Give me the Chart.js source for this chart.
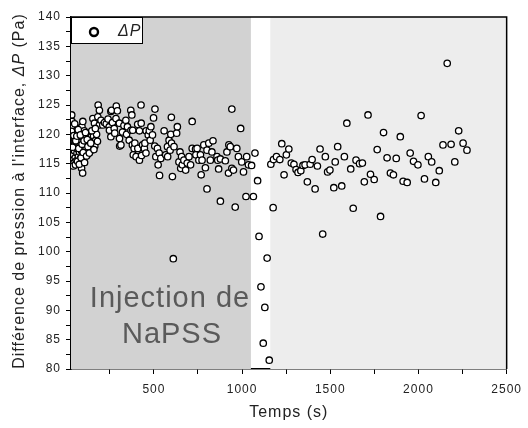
<!DOCTYPE html>
<html>
<head>
<meta charset="utf-8">
<script src="https://cdn.jsdelivr.net/npm/chart.js@4/dist/chart.umd.min.js"></script>
<style>
  html, body { margin: 0; padding: 0; background: #fff; }
  canvas { display: block; }
</style>
</head>
<body>
<canvas id="dpChart" width="528" height="428"></canvas>
<script>
// time (s) and pressure difference (Pa)
const injTime = [32, 34, 35, 36, 37, 38, 40, 41, 42, 44, 45, 47, 48, 50, 52, 54, 56, 58, 60, 62,
  64, 66, 68, 70, 72, 75, 78, 80, 82, 85, 88, 90, 92, 94, 96, 97, 98, 100, 102, 105,
  108, 110, 113, 116, 120, 124, 128, 132, 136, 140, 145, 150, 154, 155, 158, 163, 165, 170, 175, 180,
  182, 184, 191, 191, 200, 210, 220, 230, 240, 247, 248, 256, 256, 260, 265, 275, 278, 285, 287, 293,
  304, 305, 306, 313, 322, 330, 341, 345, 350, 360, 369, 370, 375, 378, 380, 383, 388, 392, 399, 408,
  409, 418, 418, 427, 428, 430, 436, 446, 449, 455, 456, 468, 474, 479, 483, 492, 498, 505, 506, 511,
  520, 524, 530, 532, 539, 558, 567, 577, 578, 586, 592, 596, 599, 600, 605, 610, 614, 629, 633, 642,
  648, 652, 657, 661, 670, 680, 689, 699, 708, 717, 717, 736, 738, 745, 755, 764, 768, 773, 783, 792,
  801, 801, 811, 820, 829, 835, 858, 862, 867, 877, 877, 905, 914, 923, 925, 933, 942, 942, 951, 961,
  970, 979, 992, 998, 1008, 1022, 1026, 1036];
const injDP = [117.0, 123.3, 118.5, 122.2, 116.0, 119.3, 115.0, 121.3, 117.5, 120.4, 116.5, 115.1, 118.8, 117.2, 119.0, 116.0, 117.8, 120.0, 115.5, 118.2,
  116.8, 121.0, 117.5, 119.2, 116.2, 118.0, 117.0, 120.0, 115.8, 118.6, 117.3, 114.2, 121.3, 116.5, 113.4, 122.2, 119.5, 117.8, 115.6, 120.6,
  118.2, 116.9, 119.4, 117.5, 118.8, 116.6, 119.8, 118.0, 120.2, 117.2, 119.6, 118.4, 122.7, 118.7, 119.7, 121.9, 118.0, 119.0, 120.0, 118.8,
  123.0, 125.0, 124.1, 121.6, 122.4, 121.6, 122.0, 121.8, 122.6, 121.3, 120.7, 123.9, 119.6, 124.1, 122.0, 121.0, 120.2, 122.7, 124.8, 124.0,
  121.9, 119.3, 118.0, 118.2, 120.4, 121.5, 122.4, 120.0, 121.3, 119.0, 124.1, 120.7, 123.3, 118.2, 120.7, 116.5, 117.6, 118.5, 116.2, 121.7,
  117.6, 120.6, 115.6, 125.0, 121.9, 116.4, 118.2, 117.6, 118.5, 116.8, 120.6, 119.9, 120.6, 119.0, 121.3, 119.9, 122.8, 118.0, 124.3, 116.2,
  117.6, 114.8, 116.8, 113.0, 115.9, 120.6, 116.5, 117.9, 116.2, 119.0, 117.3, 120.0, 122.9, 118.5, 112.8, 98.8, 117.9, 120.2, 121.3, 115.3,
  117.0, 114.2, 116.2, 114.8, 115.6, 113.9, 115.1, 116.2, 114.8, 117.6, 122.2, 117.5, 116.5, 117.6, 115.6, 116.5, 113.1, 115.6, 118.2, 114.3,
  117.3, 110.7, 118.5, 115.6, 117.0, 118.9, 116.2, 115.6, 114.1, 115.8, 108.6, 115.5, 117.0, 113.4, 118.2, 117.9, 124.3, 114.2, 113.9, 107.6,
  117.6, 116.2, 121.0, 115.3, 113.6, 109.4, 116.2, 114.8];

// extra points in the dense start-up cluster
const startTime = [33, 39, 43, 46, 51, 55, 57, 63, 67, 71, 74, 77, 83, 87, 93, 99, 104, 107, 112, 118,
  122, 126, 134, 142, 148, 160, 168];
const startDP = [120.5, 117.8, 114.6, 119.8, 121.8, 114.8, 118.9, 119.7, 115.4, 120.8, 117.6, 114.9, 119.9, 116.0, 118.3, 116.9, 118.9, 115.2, 120.3, 116.3,
  119.1, 117.9, 116.8, 118.5, 120.6, 117.4, 121.0];

const gapTime = [1054, 1064, 1073, 1088, 1096, 1107, 1120, 1129, 1142, 1154];
const gapDP = [114.7, 109.4, 116.8, 112.1, 102.6, 94.0, 84.4, 90.5, 98.9, 81.5];

const postTime = [1163, 1176, 1178, 1195, 1214, 1225, 1238, 1251, 1265, 1279, 1294, 1306, 1317, 1333, 1345, 1357, 1370, 1386, 1397, 1414,
  1427, 1442, 1457, 1472, 1485, 1498, 1520, 1528, 1542, 1565, 1580, 1594, 1616, 1630, 1646, 1666, 1682, 1693, 1714, 1728,
  1749, 1766, 1785, 1802, 1822, 1841, 1858, 1874, 1897, 1913, 1936, 1953, 1972, 1997, 2015, 2034, 2056, 2075, 2098, 2118,
  2139, 2163, 2185, 2206, 2228, 2253, 2275];
const postDP = [114.9, 107.5, 115.7, 116.2, 115.7, 118.4, 113.1, 116.5, 117.5, 115.1, 114.9, 114.0, 113.5, 113.8, 114.7, 114.8, 111.9, 114.9, 115.7, 110.7,
  114.6, 117.5, 103.0, 116.2, 113.6, 113.9, 110.9, 115.3, 117.9, 111.2, 116.2, 121.9, 114.1, 107.4, 115.6, 115.0, 115.1, 111.9, 123.3, 113.2,
  112.3, 117.4, 106.0, 120.3, 116.0, 113.4, 113.1, 115.9, 119.6, 112.0, 111.8, 116.8, 115.4, 114.8, 123.2, 112.4, 116.2, 115.3, 111.8, 113.8,
  118.2, 132.1, 118.3, 115.3, 120.6, 118.5, 117.3];

// injection window and recovery window (s)
const injectionEnd = 1050;
const recoveryStart = 1160;

const xMajor = [500, 1000, 1500, 2000, 2500];
const yMajor = [80, 85, 90, 95, 100, 105, 110, 115, 120, 125, 130, 135, 140];

const toPts = (xs, ys) => xs.map((x, i) => ({ x, y: ys[i] }));
const allPoints = [
  ...toPts(injTime, injDP), ...toPts(startTime, startDP),
  ...toPts(gapTime, gapDP), ...toPts(postTime, postDP)
];

const FONT = '"Liberation Sans", Arial, sans-serif';
const TXT = '#222';

const decorPlugin = {
  id: 'decor',
  beforeDraw(chart) {
    chart.ctx.letterSpacing = '1px';
  },
  beforeDatasetsDraw(chart) {
    const { ctx, chartArea: a, scales: { x } } = chart;
    ctx.save();
    const x0 = x.getPixelForValue(x.min);
    const x1 = x.getPixelForValue(injectionEnd);
    const x2 = x.getPixelForValue(recoveryStart);
    const x3 = x.getPixelForValue(x.max);
    ctx.fillStyle = '#d2d2d2';
    ctx.fillRect(x0, a.top, x1 - x0, a.bottom - a.top);
    ctx.fillStyle = '#ededed';
    ctx.fillRect(x2, a.top, x3 - x2, a.bottom - a.top);

    // annotation
    ctx.fillStyle = '#5a5a5a';
    ctx.font = '29px ' + FONT;
    ctx.textAlign = 'center';
    ctx.textBaseline = 'alphabetic';
    ctx.fillText('Injection de', 170, 307);
    ctx.fillText('NaPSS', 172, 343);
    ctx.restore();
  },
  afterDatasetsDraw(chart) {
    const { ctx, chartArea: a } = chart;
    ctx.save();
    // frame top/right
    ctx.strokeStyle = '#000';
    ctx.lineWidth = 1.5;
    ctx.beginPath();
    ctx.moveTo(a.left, a.top);
    ctx.lineTo(a.right, a.top);
    ctx.lineTo(a.right, a.bottom);
    ctx.stroke();

    // legend box
    ctx.fillStyle = '#fff';
    ctx.fillRect(a.left, a.top, 71, 26);
    ctx.lineWidth = 1;
    ctx.strokeRect(a.left + 0.5, a.top + 0.5, 71, 26);
    ctx.beginPath();
    ctx.arc(a.left + 23, a.top + 15, 4, 0, Math.PI * 2);
    ctx.lineWidth = 2.4;
    ctx.stroke();
    ctx.fillStyle = TXT;
    ctx.font = 'italic 16px ' + FONT;
    ctx.textAlign = 'left';
    ctx.textBaseline = 'middle';
    ctx.fillText('\u0394P', a.left + 47, a.top + 15);

    // y title with italic symbol
    const parts = [
      ['Différence de pression à l\'interface, ', ''],
      ['\u0394P', 'italic '],
      [' (Pa)', '']
    ];
    ctx.translate(20, 191);
    ctx.rotate(-Math.PI / 2);
    let total = 0;
    parts.forEach(([t, st]) => { ctx.font = st + '16px ' + FONT; total += ctx.measureText(t).width; });
    let pos = -total / 2;
    parts.forEach(([t, st]) => {
      ctx.font = st + '16px ' + FONT;
      ctx.fillText(t, pos, 0);
      pos += ctx.measureText(t).width;
    });
    ctx.restore();
  }
};

const ctx = document.getElementById('dpChart').getContext('2d');

new Chart(ctx, {
  type: 'scatter',
  data: {
    datasets: [{
      label: '\u0394P',
      data: allPoints,
      pointStyle: 'circle',
      pointRadius: 3.2,
      pointBorderWidth: 1.3,
      pointBackgroundColor: '#fff',
      pointBorderColor: '#000',
      pointHoverRadius: 3.2
    }]
  },
  options: {
    responsive: false,
    animation: false,
    devicePixelRatio: 1,
    layout: { padding: { top: 17, right: 18, left: 0, bottom: 0 } },
    plugins: {
      legend: { display: false },
      tooltip: { enabled: false }
    },
    scales: {
      x: {
        type: 'linear',
        min: 30,
        max: 2500,
        afterFit: s => { s.height = 59; },
        afterBuildTicks: s => {
          s.ticks = xMajor.flatMap(v => [{ value: v - 250 }, { value: v }]);
        },
        ticks: {
          autoSkip: false,
          maxRotation: 0,
          padding: 8,
          color: TXT,
          font: { family: FONT, size: 12 },
          callback: v => (xMajor.includes(v) ? String(v) : '')
        },
        grid: { drawOnChartArea: false, drawTicks: true, tickLength: 5, color: '#000' },
        border: { display: true, color: '#000', width: 1.5 },
        title: {
          display: true,
          text: 'Temps (s)',
          color: TXT,
          font: { family: FONT, size: 16 },
          padding: { top: 0, bottom: 6 }
        }
      },
      y: {
        min: 80,
        max: 140,
        afterFit: s => { s.width = 71; },
        afterBuildTicks: s => {
          s.ticks = yMajor.flatMap((v, i) => (i === 0 ? [{ value: v }] : [{ value: v - 2.5 }, { value: v }]));
        },
        ticks: {
          autoSkip: false,
          padding: 5,
          color: TXT,
          font: { family: FONT, size: 12 },
          callback: v => (yMajor.includes(v) ? String(v) : '')
        },
        grid: { drawOnChartArea: false, drawTicks: true, tickLength: 5, color: '#000' },
        border: { display: true, color: '#000', width: 1.5 },
        title: { display: false }
      }
    }
  },
  plugins: [decorPlugin]
});
</script>
</body>
</html>
